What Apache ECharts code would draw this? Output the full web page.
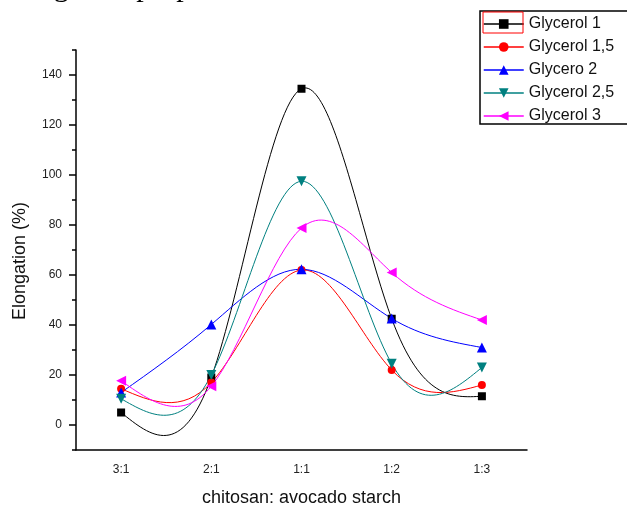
<!DOCTYPE html>
<html>
<head>
<meta charset="utf-8">
<script src="https://cdn.jsdelivr.net/npm/echarts@6/dist/echarts.min.js"></script>
<style>html,body{margin:0;padding:0;background:#fff;}#c{width:627px;height:506px;}</style>
</head>
<body>
<div id="c"></div>
<script>
const categories = ['3:1', '2:1', '1:1', '1:2', '1:3'];
const glycerol1 = [5, 19, 134.5, 42.5, 11.5];
const glycerol15 = [14.5, 17, 62, 22, 16];
const glycero2 = [13, 40.2, 62.3, 42.6, 31];
const glycerol25 = [10.5, 20, 97.5, 24.5, 23];
const glycerol3 = [17.7, 15.5, 78.8, 61, 42];
const yTickLabels = [0, 20, 40, 60, 80, 100, 120, 140];
const yMinorTicks = [-10, 10, 30, 50, 70, 90, 110, 130, 150];
const seriesNames = ['Glycerol 1', 'Glycerol 1,5', 'Glycero 2', 'Glycerol 2,5', 'Glycerol 3'];

const chart = echarts.init(document.getElementById('c'), null, {renderer: 'canvas'});
const font = '"Liberation Sans", Arial, sans-serif';
const axisTextColor = '#222';

// Natural cubic spline through pixel points -> SVG path (Bezier segments, exact)
function splinePath(pts) {
  const n = pts.length;
  const h = [], M = new Array(n).fill(0);
  for (let i = 0; i < n - 1; i++) h.push(pts[i + 1][0] - pts[i][0]);
  if (n > 2) {
    const a = [], b = [], c = [], d = [];
    for (let i = 1; i < n - 1; i++) {
      a.push(h[i - 1]); b.push(2 * (h[i - 1] + h[i])); c.push(h[i]);
      d.push(6 * ((pts[i + 1][1] - pts[i][1]) / h[i] - (pts[i][1] - pts[i - 1][1]) / h[i - 1]));
    }
    const m = b.length;
    for (let i = 1; i < m; i++) {
      const w = a[i] / b[i - 1];
      b[i] -= w * c[i - 1]; d[i] -= w * d[i - 1];
    }
    const sol = new Array(m);
    sol[m - 1] = d[m - 1] / b[m - 1];
    for (let i = m - 2; i >= 0; i--) sol[i] = (d[i] - c[i] * sol[i + 1]) / b[i];
    for (let i = 0; i < m; i++) M[i + 1] = sol[i];
  }
  let p = 'M' + pts[0][0] + ' ' + pts[0][1];
  for (let i = 0; i < n - 1; i++) {
    const hi = h[i];
    const sl = (pts[i + 1][1] - pts[i][1]) / hi;
    const d0 = sl - hi * (2 * M[i] + M[i + 1]) / 6;
    const d1 = sl + hi * (M[i] + 2 * M[i + 1]) / 6;
    p += ' C' + (pts[i][0] + hi / 3) + ' ' + (pts[i][1] + d0 * hi / 3) + ' ' +
         (pts[i + 1][0] - hi / 3) + ' ' + (pts[i + 1][1] - d1 * hi / 3) + ' ' +
         pts[i + 1][0] + ' ' + pts[i + 1][1];
  }
  return p;
}

function curve(values, color) {
  return {
    type: 'custom', coordinateSystem: 'cartesian2d', xAxisIndex: 0, yAxisIndex: 0,
    data: values.map((v, i) => [i, v]), encode: {x: 0, y: 1}, silent: true, z: 2,
    renderItem: function (params, api) {
      if (params.dataIndex !== 0) return null;
      const pts = values.map((v, i) => api.coord([i, v]));
      return {type: 'path', shape: {pathData: splinePath(pts)},
              style: {fill: 'none', stroke: color, lineWidth: 1}};
    }
  };
}

function mk(name, data, color, symbol, size, rotate) {
  return {
    name: name, type: 'line', data: data,
    xAxisIndex: 0, yAxisIndex: 0,
    symbol: symbol, symbolSize: size, symbolRotate: rotate || 0,
    lineStyle: {color: color, width: 1, opacity: 0},
    itemStyle: {color: color},
    emphasis: {disabled: true},
    z: 3
  };
}

chart.setOption({
  animation: false,
  backgroundColor: '#fff',
  grid: {left: 76, top: 50, width: 451, height: 400, containLabel: false, outerBoundsMode: 'none'},
  legend: {
    orient: 'vertical', left: 480, top: 11,
    data: seriesNames,
    itemWidth: 40, itemHeight: 12, itemGap: 7,
    padding: [5, 40, 0, 3],
    borderColor: '#000', borderWidth: 1.5,
    lineStyle: {opacity: 1, width: 1.5},
    textStyle: {fontFamily: font, fontSize: 16, lineHeight: 16, color: '#111'},
    selectedMode: false
  },
  xAxis: [{
    type: 'category', data: categories, boundaryGap: true,
    axisLine: {onZero: false, lineStyle: {color: '#000', width: 1.5}},
    axisTick: {alignWithLabel: true, length: 6, lineStyle: {color: '#000', width: 1.5}},
    axisLabel: {color: axisTextColor, fontFamily: font, fontSize: 12, margin: 14},
    splitLine: {show: false},
    name: 'chitosan: avocado starch', nameLocation: 'middle', nameGap: 39,
    nameTextStyle: {fontFamily: font, fontSize: 18, color: '#111'}
  }, {
    type: 'category', data: categories, boundaryGap: true, position: 'bottom',
    axisLine: {show: false, onZero: false},
    axisTick: {alignWithLabel: false, length: 4, lineStyle: {color: '#000', width: 1.5}},
    axisLabel: {show: false}, splitLine: {show: false}
  }],
  yAxis: [{
    type: 'value', min: -10, max: 150,
    axisLine: {show: true, onZero: false, lineStyle: {color: '#000', width: 1.5}},
    axisTick: {show: true, length: 7, customValues: yTickLabels, lineStyle: {color: '#000', width: 1.5}},
    axisLabel: {customValues: yTickLabels, color: axisTextColor, fontFamily: font, fontSize: 12, margin: 14},
    splitLine: {show: false},
    name: 'Elongation (%)', nameLocation: 'middle', nameGap: 47,
    nameTextStyle: {fontFamily: font, fontSize: 18, color: '#111', padding: [0, 22, 0, 0]}
  }, {
    type: 'value', min: -10, max: 150, position: 'left',
    axisLine: {show: false, onZero: false},
    axisTick: {show: true, length: 4, customValues: yMinorTicks, lineStyle: {color: '#000', width: 1.5}},
    axisLabel: {show: false}, splitLine: {show: false}
  }],
  series: [
    curve(glycerol1, '#000000'),
    curve(glycerol15, '#ff0000'),
    curve(glycero2, '#0000ff'),
    curve(glycerol25, '#008080'),
    curve(glycerol3, '#ff00ff'),
    mk(seriesNames[0], glycerol1, '#000000', 'rect', 8),
    mk(seriesNames[1], glycerol15, '#ff0000', 'circle', 8),
    mk(seriesNames[2], glycero2, '#0000ff', 'triangle', 10),
    mk(seriesNames[3], glycerol25, '#008080', 'triangle', 10, 180),
    mk(seriesNames[4], glycerol3, '#ff00ff', 'triangle', 10, 90)
  ],
  graphic: [
    {type: 'rect', shape: {x: 483, y: 12, width: 40, height: 21},
     style: {fill: 'none', stroke: '#ff0000', lineWidth: 1}, z: 100},
    {type: 'text', x: 2, y: 3,
     style: {text: 'elongation properties.', font: '30px "Liberation Serif", "Times New Roman", serif', fill: '#000', verticalAlign: 'bottom', align: 'left'}}
  ]
});
</script>
</body>
</html>
